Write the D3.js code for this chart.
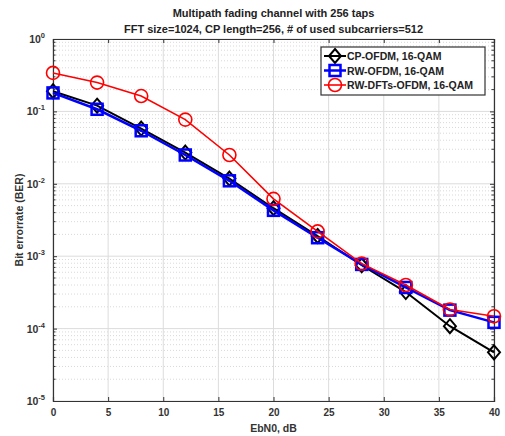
<!DOCTYPE html>
<html>
<head>
<meta charset="utf-8">
<script src="https://cdn.jsdelivr.net/npm/d3@7"></script>
<style>
  body { margin: 0; background: #fff; }
  text { font-family: Arial, "Liberation Sans", sans-serif; }
</style>
</head>
<body>
<script>
var width = 505, height = 436;
var margin = { top: 39, right: 11, bottom: 35, left: 53 };

// data
var ebn0 = [0, 4, 8, 12, 16, 20, 24, 28, 32, 36, 40];
var berCP = [0.19, 0.12, 0.058, 0.027, 0.0118, 0.0046, 0.0019, 0.00075, 0.00032, 0.000108, 0.000047];
var berRW = [0.18, 0.107, 0.054, 0.025, 0.011, 0.0043, 0.0018, 0.00077, 0.00037, 0.00018, 0.000122];
var berDFT = [0.34, 0.25, 0.163, 0.077, 0.025, 0.0062, 0.0022, 0.00079, 0.0004, 0.000184, 0.000148];
var xTicks = [0, 5, 10, 15, 20, 25, 30, 35, 40];
var yTicks = [1, 0.1, 0.01, 0.001, 0.0001, 0.00001];
var seriesNames = ["CP-OFDM, 16-QAM", "RW-OFDM, 16-QAM", "RW-DFTs-OFDM, 16-QAM"];

var series = [
  { name: seriesNames[0], values: berCP, color: "#000", marker: "diamond", lw: 2 },
  { name: seriesNames[1], values: berRW, color: "#0000ff", marker: "square", lw: 2.5 },
  { name: seriesNames[2], values: berDFT, color: "#ff0000", marker: "circle", lw: 1.6 }
];

var svg = d3.select("body").append("svg")
    .attr("width", width)
    .attr("height", height);

var w = width - margin.left - margin.right,
    h = height - margin.top - margin.bottom;

var x = d3.scaleLinear().domain([0, 40]).range([0, w]);
var y = d3.scaleLog().domain([1e-5, 1]).range([h, 0]);

var g = svg.append("g")
    .attr("transform", "translate(" + margin.left + "," + margin.top + ")");

// minor grid (dotted)
var minor = [];
for (var e = -5; e < 0; e++) {
  for (var m = 2; m <= 9; m++) minor.push(m * Math.pow(10, e));
}
g.append("g").selectAll("line")
  .data(minor)
  .enter().append("line")
    .attr("x1", 0).attr("x2", w)
    .attr("y1", d => y(d)).attr("y2", d => y(d))
    .attr("stroke", "#c8c8c8")
    .attr("stroke-width", 0.7)
    .attr("stroke-dasharray", "1,2");

// major grid
g.append("g").selectAll("line")
  .data(xTicks)
  .enter().append("line")
    .attr("x1", d => x(d)).attr("x2", d => x(d))
    .attr("y1", 0).attr("y2", h)
    .attr("stroke", "#dcdcdc");
g.append("g").selectAll("line")
  .data(yTicks)
  .enter().append("line")
    .attr("x1", 0).attr("x2", w)
    .attr("y1", d => y(d)).attr("y2", d => y(d))
    .attr("stroke", "#dcdcdc");

// axes with inward ticks
var xAxis = g.append("g")
    .attr("transform", "translate(0," + h + ")")
    .call(d3.axisBottom(x).tickValues(xTicks).tickSize(-4).tickPadding(8).tickFormat(d3.format("d")));
var xTop = g.append("g")
    .call(d3.axisTop(x).tickValues(xTicks).tickSize(-4).tickFormat(""));
var yAxis = g.append("g")
    .call(d3.axisLeft(y).tickValues(yTicks).tickSize(-4).tickPadding(8).tickFormat(""));
var yRight = g.append("g")
    .attr("transform", "translate(" + w + ",0)")
    .call(d3.axisRight(y).tickValues(yTicks).tickSize(-4).tickFormat(""));

// minor ticks on y axes
[0, w].forEach(function(px) {
  g.append("g").selectAll("line")
    .data(minor)
    .enter().append("line")
      .attr("x1", px).attr("x2", px === 0 ? 2.5 : w - 2.5)
      .attr("y1", d => y(d)).attr("y2", d => y(d))
      .attr("stroke", "#333");
});

[xAxis, xTop, yAxis, yRight].forEach(function(a) {
  a.select(".domain").attr("stroke", "#333").attr("stroke-width", 1.2);
  a.selectAll(".tick line").attr("stroke", "#333");
});
xAxis.selectAll(".tick text")
    .attr("font-size", 10).attr("font-weight", "bold").attr("fill", "#333");

// y tick labels as 10^n
yTicks.forEach(function(t) {
  var lab = g.append("text")
      .attr("x", -8).attr("y", y(t) + 4)
      .attr("text-anchor", "end")
      .attr("font-size", 10.5).attr("font-weight", "bold").attr("fill", "#333");
  lab.append("tspan").text("10");
  lab.append("tspan").attr("dy", -5).attr("font-size", 7.5).text(Math.round(Math.log10(t)));
});

// lines and markers
var line = d3.line()
    .x((d, i) => x(ebn0[i]))
    .y(d => y(d));

function drawMarker(sel, s) {
  if (s.marker === "circle") {
    sel.append("circle").attr("r", 6.5);
  } else if (s.marker === "square") {
    sel.append("rect").attr("x", -5.5).attr("y", -5.5).attr("width", 11).attr("height", 11);
  } else {
    sel.append("path").attr("d", "M0,-7L6,0L0,7L-6,0Z");
  }
  sel.selectAll("*")
    .attr("fill", "none")
    .attr("stroke", s.color)
    .attr("stroke-width", s.lw);
}

series.forEach(function(s) {
  g.append("path")
    .datum(s.values)
    .attr("fill", "none")
    .attr("stroke", s.color)
    .attr("stroke-width", s.lw)
    .attr("d", line);
  g.append("g").selectAll("g")
    .data(s.values)
    .enter().append("g")
      .attr("transform", (d, i) => "translate(" + x(ebn0[i]) + "," + y(d) + ")")
      .each(function() { drawMarker(d3.select(this), s); });
});

// legend
var lg = svg.append("g").attr("transform", "translate(321,47)");
lg.append("rect")
    .attr("width", 164).attr("height", 48)
    .attr("fill", "#fff").attr("stroke", "#333").attr("stroke-width", 1.2);
series.forEach(function(s, i) {
  var yy = 9 + i * 14.5;
  lg.append("line")
    .attr("x1", 3).attr("x2", 25).attr("y1", yy).attr("y2", yy)
    .attr("stroke", s.color).attr("stroke-width", s.lw);
  drawMarker(lg.append("g").attr("transform", "translate(14," + yy + ")"), s);
  lg.append("text")
    .attr("x", 26).attr("y", yy + 4)
    .attr("font-size", 10.5).attr("font-weight", "bold").attr("fill", "#222")
    .text(s.name);
});

// titles
svg.append("text")
    .attr("x", margin.left + w / 2).attr("y", 17)
    .attr("text-anchor", "middle")
    .attr("font-size", 11).attr("font-weight", "bold").attr("fill", "#222")
    .text("Multipath fading channel with 256 taps");
svg.append("text")
    .attr("x", margin.left + w / 2).attr("y", 33)
    .attr("text-anchor", "middle")
    .attr("font-size", 11).attr("font-weight", "bold").attr("fill", "#222")
    .text("FFT size=1024, CP length=256, # of used subcarriers=512");

svg.append("text")
    .attr("x", margin.left + w / 2).attr("y", 432)
    .attr("text-anchor", "middle")
    .attr("font-size", 10.5).attr("font-weight", "bold").attr("fill", "#333")
    .text("EbN0, dB");

svg.append("text")
    .attr("transform", "translate(23," + (margin.top + h / 2) + ") rotate(-90)")
    .attr("text-anchor", "middle")
    .attr("font-size", 10.5).attr("font-weight", "bold").attr("fill", "#333")
    .text("Bit errorrate (BER)");
</script>
</body>
</html>
